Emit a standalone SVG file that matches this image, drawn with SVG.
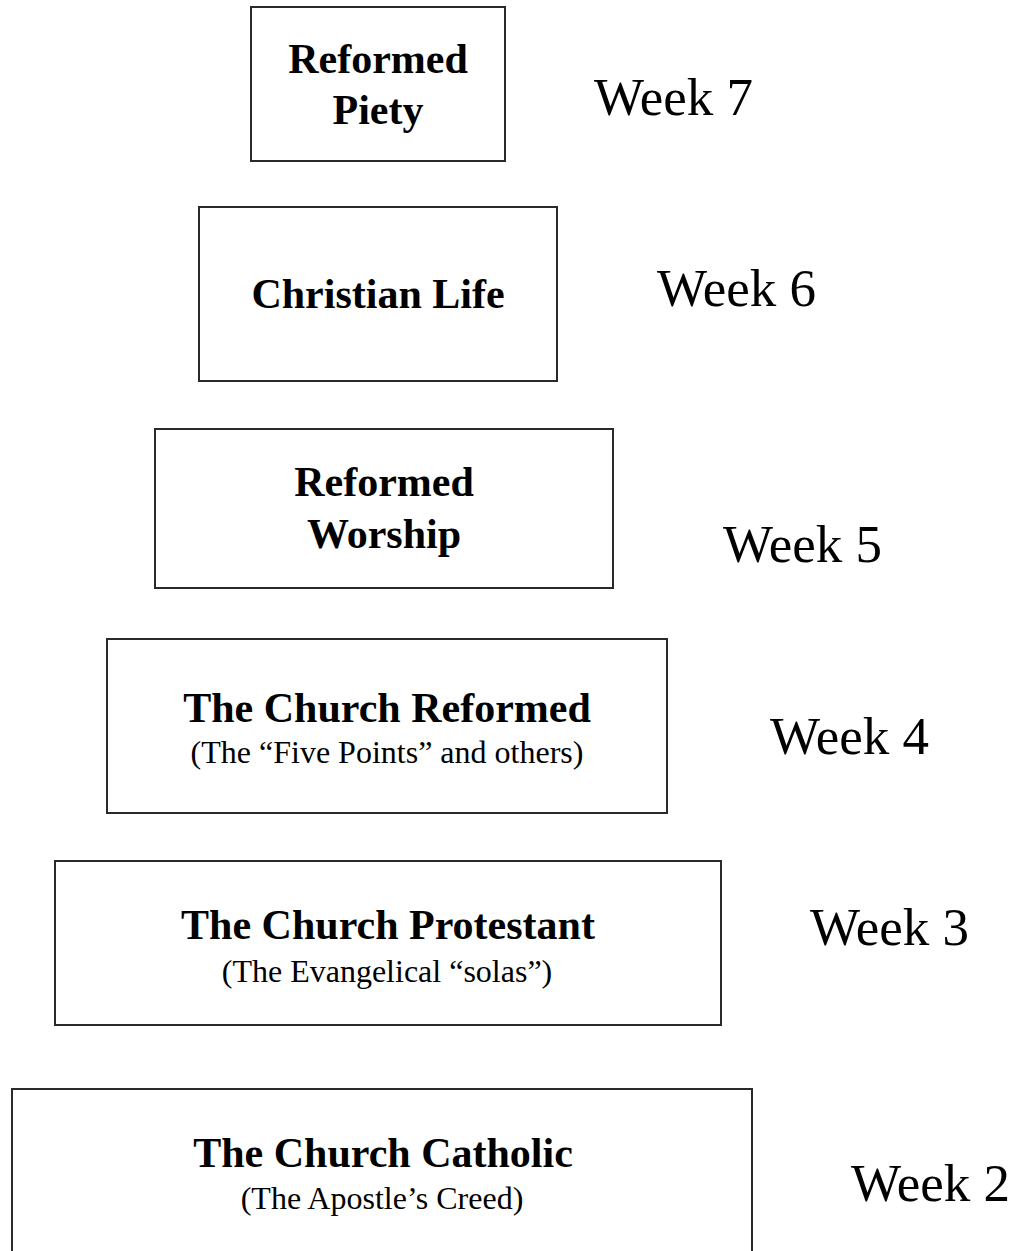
<svg xmlns="http://www.w3.org/2000/svg" width="1023" height="1251" viewBox="0 0 1023 1251">
<style>
.box{fill:#fff;stroke:#2a2a2a;stroke-width:2}
.t{font-family:"Liberation Serif","Times New Roman",serif;font-weight:bold;font-size:42px;fill:#000;text-anchor:middle}
.s{font-family:"Liberation Serif","Times New Roman",serif;font-size:32px;fill:#000;text-anchor:middle}
.w{font-family:"Liberation Serif","Times New Roman",serif;font-size:53px;fill:#000}
</style>
<rect width="1023" height="1251" fill="#fff"/>
<g id="connectors"></g>
<g id="piety">
<rect class="box" x="251" y="7" width="254" height="154"/>
<text class="t" x="378" y="73">Reformed</text>
<text class="t" x="378" y="124">Piety</text>
</g>
<g id="christian-life">
<rect class="box" x="199" y="207" width="358" height="174"/>
<text class="t" x="378" y="308">Christian Life</text>
</g>
<g id="worship">
<rect class="box" x="155" y="429" width="458" height="159"/>
<text class="t" x="384" y="496">Reformed</text>
<text class="t" x="384" y="548">Worship</text>
</g>
<g id="church-reformed">
<rect class="box" x="107" y="639" width="560" height="174"/>
<text class="t" x="387" y="722">The Church Reformed</text>
<text class="s" x="387" y="763">(The “Five Points” and others)</text>
</g>
<g id="church-protestant">
<rect class="box" x="55" y="861" width="666" height="164"/>
<text class="t" x="388" y="939">The Church Protestant</text>
<text class="s" x="387" y="982">(The Evangelical “solas”)</text>
</g>
<g id="church-catholic">
<rect class="box" x="12" y="1089" width="740" height="200"/>
<text class="t" x="383" y="1167">The Church Catholic</text>
<text class="s" x="382" y="1209">(The Apostle’s Creed)</text>
</g>
<g id="weeks">
<text class="w" x="594" y="115">Week 7</text>
<text class="w" x="657" y="306">Week 6</text>
<text class="w" x="723" y="562">Week 5</text>
<text class="w" x="770" y="754">Week 4</text>
<text class="w" x="810" y="945">Week 3</text>
<text class="w" x="851" y="1201">Week 2</text>
</g>
</svg>
